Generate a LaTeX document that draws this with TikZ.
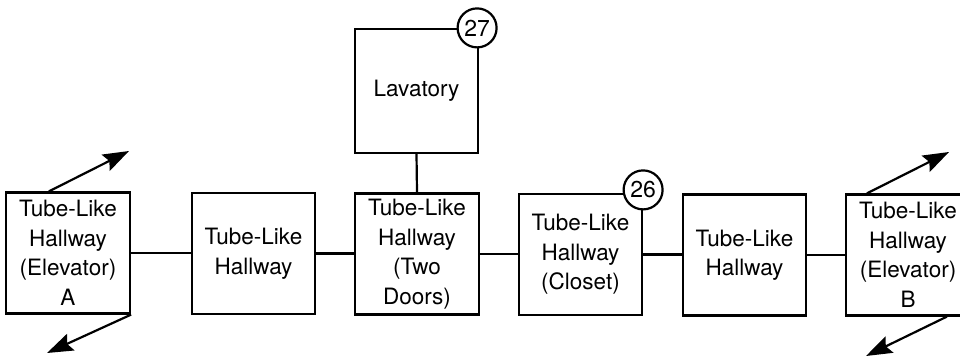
\documentclass[tikz,border=0pt]{standalone}
\usepackage{fontspec}
\setmainfont{TeX Gyre Heros}
\usetikzlibrary{arrows.meta,calc}
\begin{document}
\begin{tikzpicture}[x=1pt,y=-1pt,
  room/.style={draw,line width=2.2pt,rectangle,inner sep=0pt,minimum width=124pt,minimum height=121pt,
    align=center,font=\fontsize{22.5}{29.5}\selectfont,fill=white},
  tag/.style={draw,line width=2.2pt,circle,inner sep=0pt,minimum size=39pt,fill=white,
    font=\fontsize{23}{24}\selectfont},
  link/.style={line width=2.2pt},
  flow/.style={line width=2.2pt,-{Stealth[length=26pt,width=18pt,inset=4pt]}}]
\clip (0,0) rectangle (960,356);
\fill[white] (0,0) rectangle (960,356);
\node[room] (a) at (68,253) {Tube-Like\\Hallway\\(Elevator)\\A};
\node[room,minimum width=123pt] (h1) at (253.5,253.5) {Tube-Like\\Hallway};
\node[room] (td) at (417,254) {Tube-Like\\Hallway\\(Two\\Doors)};
\node[room,minimum width=123pt,minimum height=124pt] (lav) at (416.5,91) {Lavatory};
\node[room,minimum width=123pt] (cl) at (580.5,254.5) {Tube-Like\\Hallway\\(Closet)};
\node[room,minimum width=123pt] (h2) at (744.5,255) {Tube-Like\\Hallway};
\node[room] (b) at (908,255) {Tube-Like\\Hallway\\(Elevator)\\B};
\node[tag] (t27) at (lav.north east) [xshift=-2pt] {27};
\node[tag] (t26) at (cl.north east) [yshift=3pt] {26};
\draw[link] (a.east) -- (a.east -| h1.west);
\draw[link] (h1.east) -- (h1.east -| td.west);
\draw[link] (td.east) -- (td.east -| cl.west);
\draw[link] (cl.east) -- (cl.east -| h2.west);
\draw[link] (h2.east) -- (h2.east -| b.west);
\draw[link] (lav.south) -- (td.north);
\coordinate (a1) at ($(a.north west)+(44,0)$);
\coordinate (a1e) at (129,151);
\coordinate (a2) at (a.south east);
\coordinate (a2e) at (47,353);
\coordinate (b1) at ($(b.north west)+(22,0)$);
\coordinate (b1e) at (949,152);
\coordinate (b2) at ($(b.south west)+(102,0)$);
\coordinate (b2e) at (866,356);
\draw[flow] (a1) -- (a1e);
\draw[flow] (a2) -- (a2e);
\draw[flow] (b1) -- (b1e);
\draw[flow] (b2) -- (b2e);
\end{tikzpicture}
\end{document}
